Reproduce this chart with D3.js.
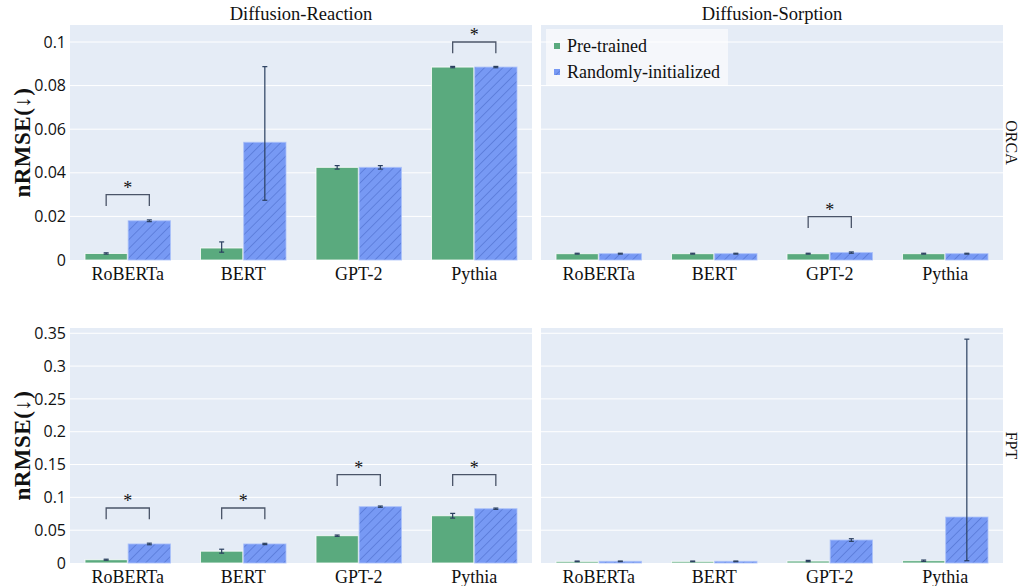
<!DOCTYPE html>
<html>
<head>
<meta charset="utf-8">
<script src="https://cdn.jsdelivr.net/npm/d3@7"></script>
<style>
  body { margin: 0; background: #fff; }
  text { font-family: "Liberation Serif", "Times New Roman", serif; fill: #111; }
  .tick text { font-family: "Open Sans", sans-serif; }
</style>
</head>
<body>
<div id="main"></div>
<script>
// ---- data ----
const MODELS = ["RoBERTa", "BERT", "GPT-2", "Pythia"];
const TASKS = ["Diffusion-Reaction", "Diffusion-Sorption"];
const METHODS = ["ORCA", "FPT"];
const SERIES = ["Pre-trained", "Randomly-initialized"];

const ORCA_TICKS = [0, 0.02, 0.04, 0.06, 0.08, 0.1];
const ORCA_TICK_LABELS = ["0", "0.02", "0.04", "0.06", "0.08", "0.1"];
const FPT_TICKS = [0, 0.05, 0.1, 0.15, 0.2, 0.25, 0.3, 0.35];
const FPT_TICK_LABELS = ["0", "0.05", "0.1", "0.15", "0.2", "0.25", "0.3", "0.35"];
const Y_MAX = [0.1078, 0.358];

// errors are [plus, minus]
const orcaReactPre = [0.0030, 0.0055, 0.0425, 0.0885];
const orcaReactPreErr = [[0.0003, 0.0003], [0.0028, 0.0019], [0.0008, 0.0008], [0.0003, 0.0003]];
const orcaReactRand = [0.0180, 0.0540, 0.0425, 0.0885];
const orcaReactRandErr = [[0.0004, 0.0004], [0.0347, 0.0266], [0.0008, 0.0008], [0.0003, 0.0003]];
const orcaReactSig = [0.030, null, null, 0.100];

const orcaSorpPre = [0.0029, 0.0029, 0.0029, 0.0029];
const orcaSorpPreErr = [[0.0002, 0.0002], [0.0002, 0.0002], [0.0002, 0.0002], [0.0002, 0.0002]];
const orcaSorpRand = [0.0029, 0.0029, 0.0034, 0.0029];
const orcaSorpRandErr = [[0.0002, 0.0002], [0.0002, 0.0002], [0.0003, 0.0003], [0.0002, 0.0002]];
const orcaSorpSig = [null, null, 0.0199, null];

const fptReactPre = [0.0050, 0.0180, 0.0416, 0.0720];
const fptReactPreErr = [[0.0008, 0.0008], [0.0030, 0.0030], [0.0010, 0.0010], [0.0036, 0.0036]];
const fptReactRand = [0.0290, 0.0290, 0.0858, 0.0827];
const fptReactRandErr = [[0.0012, 0.0012], [0.0010, 0.0010], [0.0010, 0.0010], [0.0010, 0.0010]];
const fptReactSig = [0.0838, 0.0838, 0.1345, 0.1345];

const fptSorpPre = [0.0025, 0.0025, 0.0030, 0.0035];
const fptSorpPreErr = [[0.0005, 0.0005], [0.0005, 0.0005], [0.0010, 0.0010], [0.0010, 0.0010]];
const fptSorpRand = [0.0025, 0.0025, 0.0350, 0.0700];
const fptSorpRandErr = [[0.0005, 0.0005], [0.0005, 0.0005], [0.0020, 0.0020], [0.2710, 0.0665]];
const fptSorpSig = [null, null, null, null];

// ---- layout ----
const ctx = {
    w: 1021,
    h: 586,
    colX: [70, 541],
    colW: 462,
    rowY: [25, 328],
    rowH: [235, 235],
    GREEN: "#5aaa7e",
    BLUE: "#7799f4",
    PANEL: "#e5ecf6",
    ERR: "#2a3f5f",
    BRACKET: "#4a5468",
};

const panels = [
    { row: 0, col: 0, pre: orcaReactPre, preErr: orcaReactPreErr, rand: orcaReactRand, randErr: orcaReactRandErr, sig: orcaReactSig },
    { row: 0, col: 1, pre: orcaSorpPre, preErr: orcaSorpPreErr, rand: orcaSorpRand, randErr: orcaSorpRandErr, sig: orcaSorpSig },
    { row: 1, col: 0, pre: fptReactPre, preErr: fptReactPreErr, rand: fptReactRand, randErr: fptReactRandErr, sig: fptReactSig },
    { row: 1, col: 1, pre: fptSorpPre, preErr: fptSorpPreErr, rand: fptSorpRand, randErr: fptSorpRandErr, sig: fptSorpSig },
];

const svg = d3.select("#main").append("svg")
    .attr("width", ctx.w)
    .attr("height", ctx.h);

// hatch pattern for randomly-initialized bars
const defs = svg.append("defs");
const pat = defs.append("pattern")
    .attr("id", "hatch")
    .attr("patternUnits", "userSpaceOnUse")
    .attr("width", 6.5)
    .attr("height", 6.5)
    .attr("patternTransform", "rotate(45)");
pat.append("rect").attr("width", 6.5).attr("height", 6.5).attr("fill", ctx.BLUE);
pat.append("line")
    .attr("x1", 0).attr("y1", 0).attr("x2", 0).attr("y2", 6.5)
    .attr("stroke", "#4565c4")
    .attr("stroke-width", 1.1)
    .attr("stroke-opacity", 0.9);

const yScales = [0, 1].map((r) => d3.scaleLinear()
    .domain([0, Y_MAX[r]])
    .range([ctx.rowY[r] + ctx.rowH[r], ctx.rowY[r]]));

function drawPanel(p) {
    const x0 = ctx.colX[p.col];
    const y = yScales[p.row];
    const x = d3.scaleBand().domain(MODELS).range([x0, x0 + ctx.colW])
        .paddingInner(0.26).paddingOuter(0.13);
    const xs = d3.scaleBand().domain(SERIES).range([0, x.bandwidth()]).paddingInner(0.02);
    const g = svg.append("g");

    g.append("rect")
        .attr("x", x0).attr("y", ctx.rowY[p.row])
        .attr("width", ctx.colW).attr("height", ctx.rowH[p.row])
        .attr("fill", ctx.PANEL);

    const ticks = p.row === 0 ? ORCA_TICKS : FPT_TICKS;
    g.selectAll("line.grid")
        .data(ticks.slice(1))
        .enter()
        .append("line")
        .attr("class", "grid")
        .attr("x1", x0).attr("x2", x0 + ctx.colW)
        .attr("y1", (d) => y(d)).attr("y2", (d) => y(d))
        .attr("stroke", "#fff")
        .attr("stroke-width", 1);

    const bars = [];
    MODELS.forEach((m, i) => {
        bars.push({ m: m, s: SERIES[0], v: p.pre[i], e: p.preErr[i] });
        bars.push({ m: m, s: SERIES[1], v: p.rand[i], e: p.randErr[i] });
    });
    const bx = (d) => x(d.m) + xs(d.s);
    const cx = (d) => bx(d) + xs.bandwidth() / 2;

    g.selectAll("rect.bar")
        .data(bars)
        .enter()
        .append("rect")
        .attr("class", "bar")
        .attr("x", bx)
        .attr("width", xs.bandwidth())
        .attr("y", (d) => y(d.v))
        .attr("height", (d) => y(0) - y(d.v))
        .attr("fill", (d) => d.s === SERIES[0] ? ctx.GREEN : "url(#hatch)")
        .attr("stroke", (d) => d.s === SERIES[0] ? "#fff" : "#aac0fa")
        .attr("stroke-width", 1)
        .attr("stroke-opacity", 0.8);

    // error bars
    const eb = g.selectAll("g.err").data(bars).enter().append("g");
    eb.append("line")
        .attr("x1", cx).attr("x2", cx)
        .attr("y1", (d) => y(d.v + d.e[0]))
        .attr("y2", (d) => y(Math.max(0, d.v - d.e[1])))
        .attr("stroke", ctx.ERR).attr("stroke-width", 1.2);
    [0, 1].forEach((k) => {
        eb.append("line")
            .attr("x1", (d) => cx(d) - 2.5).attr("x2", (d) => cx(d) + 2.5)
            .attr("y1", (d) => y(k === 0 ? d.v + d.e[0] : Math.max(0, d.v - d.e[1])))
            .attr("y2", (d) => y(k === 0 ? d.v + d.e[0] : Math.max(0, d.v - d.e[1])))
            .attr("stroke", ctx.ERR).attr("stroke-width", 1.2);
    });

    // significance brackets
    const legH = Y_MAX[p.row] * 0.048;
    const sig = MODELS.map((m, i) => ({ m: m, top: p.sig[i] })).filter((d) => d.top != null);
    const sg = g.selectAll("g.sig").data(sig).enter().append("g");
    sg.append("path")
        .attr("d", (d) => {
            const xa = x(d.m) + xs(SERIES[0]) + xs.bandwidth() / 2;
            const xb = x(d.m) + xs(SERIES[1]) + xs.bandwidth() / 2;
            return `M${xa},${y(d.top - legH)}V${y(d.top)}H${xb}V${y(d.top - legH)}`;
        })
        .attr("fill", "none")
        .attr("stroke", ctx.BRACKET)
        .attr("stroke-width", 1.3);
    sg.append("text")
        .attr("x", (d) => x(d.m) + x.bandwidth() / 2)
        .attr("y", (d) => y(d.top) - 1)
        .attr("text-anchor", "middle")
        .style("font-size", "18px")
        .text("*");

    // category labels
    g.selectAll("text.cat")
        .data(MODELS)
        .enter()
        .append("text")
        .attr("class", "cat")
        .attr("x", (d) => x(d) + x.bandwidth() / 2)
        .attr("y", ctx.rowY[p.row] + ctx.rowH[p.row] + 20)
        .attr("text-anchor", "middle")
        .style("font-size", "18px")
        .text((d) => d);
}

panels.forEach(drawPanel);

// y axes on the left column
[0, 1].forEach((r) => {
    const labels = r === 0 ? ORCA_TICK_LABELS : FPT_TICK_LABELS;
    const ticks = r === 0 ? ORCA_TICKS : FPT_TICKS;
    const ax = svg.append("g")
        .attr("transform", `translate(${ctx.colX[0]},0)`)
        .call(d3.axisLeft(yScales[r]).tickValues(ticks)
            .tickFormat((d, i) => labels[i]).tickSize(0).tickPadding(4));
    ax.select(".domain").remove();
    ax.selectAll("text").style("font-size", "16px").attr("fill", "#222");

    svg.append("text")
        .attr("transform", `translate(30,${ctx.rowY[r] + ctx.rowH[r] / 2}) rotate(-90)`)
        .attr("text-anchor", "middle")
        .style("font-size", "23px")
        .style("font-weight", "bold")
        .style("letter-spacing", "0.5px")
        .text("nRMSE(\u2193)");

    svg.append("text")
        .attr("transform", `translate(1006,${ctx.rowY[r] + ctx.rowH[r] / 2}) rotate(90)`)
        .attr("text-anchor", "middle")
        .style("font-size", "16px")
        .text(METHODS[r]);
});

// column titles
TASKS.forEach((t, c) => {
    svg.append("text")
        .attr("x", ctx.colX[c] + ctx.colW / 2)
        .attr("y", 20)
        .attr("text-anchor", "middle")
        .style("font-size", "18.5px")
        .text(t);
});

// legend
const lg = svg.append("g").attr("transform", "translate(546,29)");
lg.append("rect")
    .attr("width", 182).attr("height", 57)
    .attr("fill", "#fff").attr("fill-opacity", 0.6);
SERIES.forEach((s, i) => {
    lg.append("rect")
        .attr("x", 8).attr("y", 14 + i * 26)
        .attr("width", 6).attr("height", 6)
        .attr("fill", i === 0 ? ctx.GREEN : "url(#hatch)");
    lg.append("text")
        .attr("x", 21).attr("y", 23 + i * 26)
        .style("font-size", "18px")
        .text(s);
});
</script>
</body>
</html>
